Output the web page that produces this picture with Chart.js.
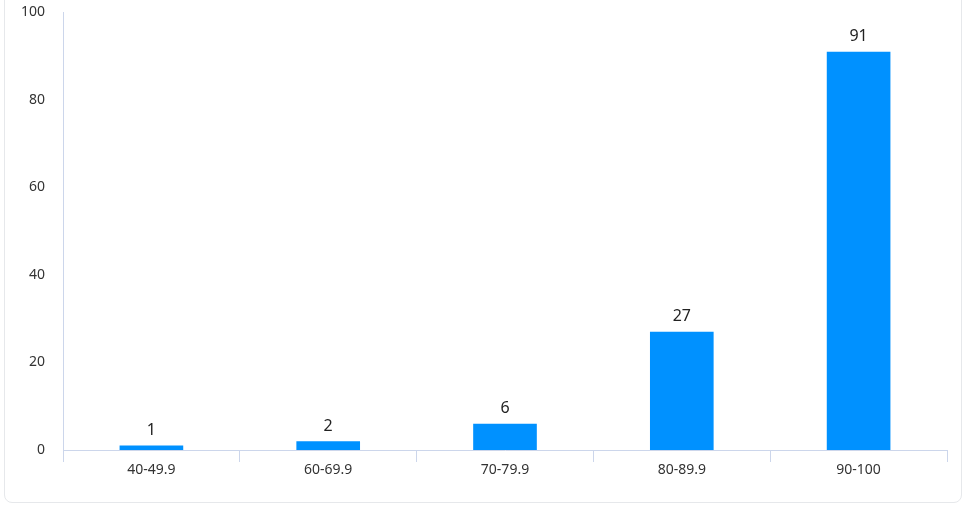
<!DOCTYPE html>
<html>
<head>
<meta charset="utf-8">
<script src="https://cdn.jsdelivr.net/npm/chart.js@4.4.0/dist/chart.umd.min.js"></script>
<style>
  html, body { margin: 0; padding: 0; background: #fff; }
  body { width: 971px; height: 506px; position: relative; overflow: hidden; }
  .card {
    position: absolute; left: 4px; top: -12px; width: 958px; height: 515px;
    border: 1px solid #e6e8eb; border-radius: 8px; box-sizing: border-box;
  }
  #wrap { position: absolute; left: 0; top: -6px; width: 971px; height: 512px; }
</style>
</head>
<body>
<div class="card"></div>
<div id="wrap"><canvas id="chart"></canvas></div>
<script>
const categories = ['40-49.9', '60-69.9', '70-79.9', '80-89.9', '90-100'];
const counts = [1, 2, 6, 27, 91];
const yTicks = [0, 20, 40, 60, 80, 100];

const axisColor = '#ccd6eb';
const fontFamily = '"Noto Sans", "DejaVu Sans", sans-serif';

// draws the value above each bar
const valueLabels = {
  id: 'valueLabels',
  afterDatasetsDraw(chart) {
    const ctx = chart.ctx;
    const meta = chart.getDatasetMeta(0);
    ctx.save();
    ctx.font = '16px ' + fontFamily;
    ctx.fillStyle = '#222';
    ctx.textAlign = 'center';
    ctx.textBaseline = 'bottom';
    meta.data.forEach((bar, i) => {
      ctx.fillText(String(counts[i]), bar.x, bar.y - 7);
    });
    ctx.restore();
  }
};

new Chart(document.getElementById('chart').getContext('2d'), {
  type: 'bar',
  data: {
    labels: categories,
    datasets: [{
      data: counts,
      backgroundColor: '#0091ff',
      borderWidth: 0,
      barPercentage: 0.36,
      categoryPercentage: 1
    }]
  },
  options: {
    responsive: true,
    maintainAspectRatio: false,
    animation: false,
    layout: { padding: { top: 0, right: 24, left: 0, bottom: 0 } },
    plugins: { legend: { display: false }, tooltip: { enabled: false } },
    scales: {
      x: {
        offset: true,
        grid: { display: true, drawOnChartArea: false, color: axisColor, tickLength: 12, offset: true },
        border: { display: true, color: axisColor, width: 1 },
        ticks: { color: '#333', font: { size: 14, family: fontFamily }, padding: 0 },
        afterFit(scale) { scale.height = 56; }
      },
      y: {
        min: 0,
        max: 100,
        afterBuildTicks(scale) { scale.ticks = yTicks.map(v => ({ value: v })); },
        grid: { display: false },
        border: { display: true, color: axisColor, width: 1 },
        ticks: { color: '#333', font: { size: 14, family: fontFamily }, padding: 10 },
        afterFit(scale) { scale.width = 63; }
      }
    }
  },
  plugins: [valueLabels]
});
</script>
</body>
</html>
